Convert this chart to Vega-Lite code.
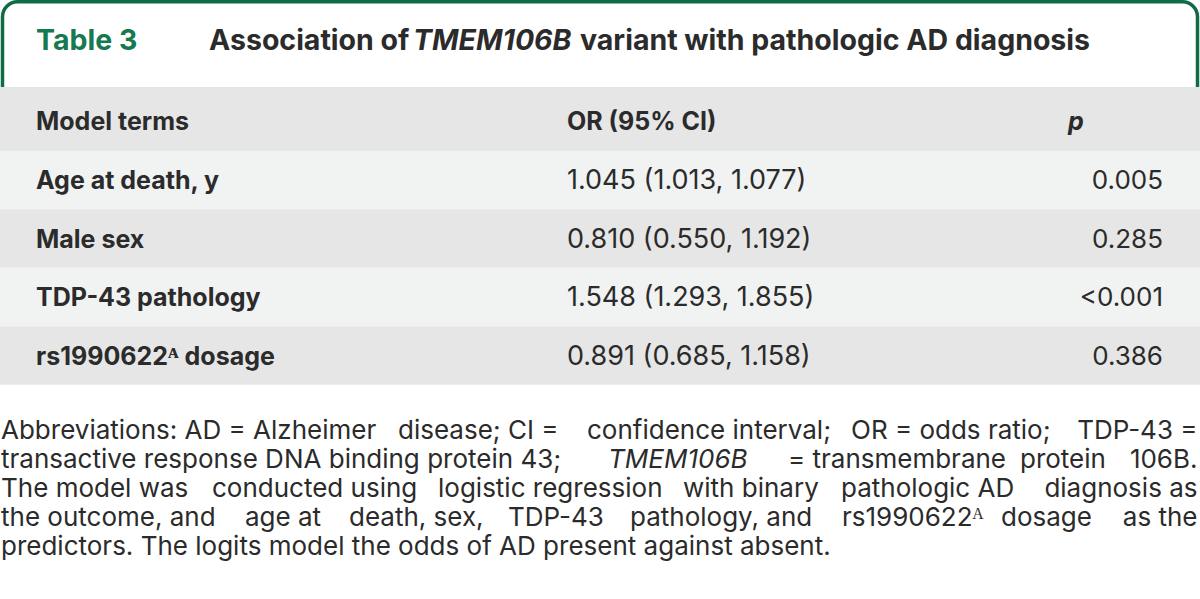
{
  "$schema": "https://vega.github.io/schema/vega-lite/v6.json",
  "width": 1200,
  "height": 599,
  "autosize": {"type": "none"},
  "padding": 0,
  "background": "white",
  "config": {"view": {"stroke": null}, "text": {"font": "Inter", "color": "#2b2b2b", "baseline": "middle"}},
  "datasets": {
    "bands": [
      {"row": 2, "shade": "header"},
      {"row": 3, "shade": "light"},
      {"row": 4, "shade": "dark"},
      {"row": 5, "shade": "light"},
      {"row": 6, "shade": "dark"}
    ],
    "cells": [
      {"row": 1, "col": 2, "role": "tableNo", "text": "Table 3"},
      {"row": 1, "col": 3, "role": "title", "text": "Association of"},
      {"row": 1, "col": 8, "role": "titleGene", "text": "TMEM106B"},
      {"row": 1, "col": 12, "role": "title", "text": "variant with pathologic AD diagnosis"},
      {"row": 2, "col": 2, "role": "colHead", "text": "Model terms"},
      {"row": 2, "col": 11, "role": "colHead", "text": "OR (95% CI)"},
      {"row": 2, "col": 23, "role": "colHeadP", "text": "p"},
      {"row": 3, "col": 2, "role": "term", "text": "Age at death, y"},
      {"row": 3, "col": 11, "role": "or", "text": "1.045 (1.013, 1.077)"},
      {"row": 3, "col": 24, "role": "p", "text": "0.005"},
      {"row": 4, "col": 2, "role": "term", "text": "Male sex"},
      {"row": 4, "col": 11, "role": "or", "text": "0.810 (0.550, 1.192)"},
      {"row": 4, "col": 24, "role": "p", "text": "0.285"},
      {"row": 5, "col": 2, "role": "term", "text": "TDP-43 pathology"},
      {"row": 5, "col": 11, "role": "or", "text": "1.548 (1.293, 1.855)"},
      {"row": 5, "col": 24, "role": "p", "text": "<0.001"},
      {"row": 6, "col": 2, "role": "term", "text": "rs1990622ᴬ dosage"},
      {"row": 6, "col": 11, "role": "or", "text": "0.891 (0.685, 1.158)"},
      {"row": 6, "col": 24, "role": "p", "text": "0.386"},
      {"row": 7, "col": 0, "role": "note", "text": "Abbreviations: AD = Alzheimer"},
      {"row": 7, "col": 7, "role": "note", "text": "disease; CI ="},
      {"row": 7, "col": 13, "role": "note", "text": "confidence interval;"},
      {"row": 7, "col": 20, "role": "note", "text": "OR = odds ratio;"},
      {"row": 7, "col": 25, "role": "noteEnd", "text": "TDP-43 ="},
      {"row": 8, "col": 0, "role": "note", "text": "transactive response DNA binding protein 43;"},
      {"row": 8, "col": 14, "role": "noteGene", "text": "TMEM106B"},
      {"row": 8, "col": 17, "role": "note", "text": "= transmembrane"},
      {"row": 8, "col": 22, "role": "note", "text": "protein"},
      {"row": 8, "col": 25, "role": "noteEnd", "text": "106B."},
      {"row": 9, "col": 0, "role": "note", "text": "The model was"},
      {"row": 9, "col": 4, "role": "note", "text": "conducted using"},
      {"row": 9, "col": 9, "role": "note", "text": "logistic regression"},
      {"row": 9, "col": 16, "role": "note", "text": "with binary"},
      {"row": 9, "col": 18, "role": "note", "text": "pathologic AD"},
      {"row": 9, "col": 25, "role": "noteEnd", "text": "diagnosis as"},
      {"row": 10, "col": 0, "role": "note", "text": "the outcome, and"},
      {"row": 10, "col": 5, "role": "note", "text": "age at"},
      {"row": 10, "col": 6, "role": "note", "text": "death, sex,"},
      {"row": 10, "col": 10, "role": "note", "text": "TDP-43"},
      {"row": 10, "col": 15, "role": "note", "text": "pathology, and"},
      {"row": 10, "col": 19, "role": "note", "text": "rs1990622ᴬ"},
      {"row": 10, "col": 21, "role": "note", "text": "dosage"},
      {"row": 10, "col": 25, "role": "noteEnd", "text": "as the"},
      {"row": 11, "col": 0, "role": "note", "text": "predictors. The logits model the odds of AD present against absent."}
    ]
  },
  "layer": [
    {
      "data": {"values": [{}]},
      "mark": {"type": "rect", "fill": "white", "stroke": "#0f6b45", "strokeWidth": 3.5, "cornerRadius": 15},
      "encoding": {
        "x": {"datum": 1, "type": "quantitative", "axis": null, "scale": {"domain": [0,1,2,3,4,5,6,7,8,9,10,11,12,13,14,15,16,17,18,19,20,21,22,23,24,25,26], "range": [1,2.5,36,209,212,245,349,398,413,438,508,567,580,587,608,630,683,788,841,842,851,1001,1020,1068,1163,1197.5,1200], "zero": false, "nice": false}},
        "x2": {"datum": 25},
        "y": {"datum": 0, "type": "quantitative", "axis": null, "scale": {"domain": [0,1,2,3,4,5,6,7,8,9,10,11,12], "range": [1.8,41,119,180,238.5,297,355.5,431,460,489,518,547,599], "zero": false, "nice": false}},
        "y2": {"datum": 2}
      }
    },
    {
      "data": {"name": "bands"},
      "transform": [{"filter": "datum.shade == 'header'"}],
      "mark": {"type": "rule", "strokeWidth": 64},
      "encoding": {
        "y": {"field": "row", "type": "quantitative", "axis": null},
        "color": {"field": "shade", "type": "nominal", "legend": null, "scale": {"domain": ["header", "light", "dark"], "range": ["#e6e6e6", "#f1f2f2", "#e6e6e6"]}}
      }
    },
    {
      "data": {"name": "bands"},
      "transform": [{"filter": "datum.shade != 'header'"}],
      "mark": {"type": "rule", "strokeWidth": 58.7},
      "encoding": {
        "y": {"field": "row", "type": "quantitative", "axis": null},
        "color": {"field": "shade", "type": "nominal", "legend": null}
      }
    },
    {
      "data": {"name": "cells"},
      "transform": [{"filter": "datum.role == 'tableNo'"}],
      "mark": {"type": "text", "align": "left", "fontSize": 28.5, "fontWeight": "bold", "color": "#157a4f"},
      "encoding": {"x": {"field": "col", "type": "quantitative", "axis": null}, "y": {"field": "row", "type": "quantitative", "axis": null}, "text": {"field": "text"}}
    },
    {
      "data": {"name": "cells"},
      "transform": [{"filter": "datum.role == 'title'"}],
      "mark": {"type": "text", "align": "left", "fontSize": 28.5, "fontWeight": "bold"},
      "encoding": {"x": {"field": "col", "type": "quantitative", "axis": null}, "y": {"field": "row", "type": "quantitative", "axis": null}, "text": {"field": "text"}}
    },
    {
      "data": {"name": "cells"},
      "transform": [{"filter": "datum.role == 'titleGene'"}],
      "mark": {"type": "text", "align": "left", "fontSize": 28.5, "fontWeight": "bold", "fontStyle": "italic"},
      "encoding": {"x": {"field": "col", "type": "quantitative", "axis": null}, "y": {"field": "row", "type": "quantitative", "axis": null}, "text": {"field": "text"}}
    },
    {
      "data": {"name": "cells"},
      "transform": [{"filter": "datum.role == 'colHead'"}],
      "mark": {"type": "text", "align": "left", "fontSize": 25, "fontWeight": "bold", "dy": 3},
      "encoding": {"x": {"field": "col", "type": "quantitative", "axis": null}, "y": {"field": "row", "type": "quantitative", "axis": null}, "text": {"field": "text"}}
    },
    {
      "data": {"name": "cells"},
      "transform": [{"filter": "datum.role == 'colHeadP'"}],
      "mark": {"type": "text", "align": "left", "fontSize": 25, "fontWeight": "bold", "fontStyle": "italic", "dy": 3},
      "encoding": {"x": {"field": "col", "type": "quantitative", "axis": null}, "y": {"field": "row", "type": "quantitative", "axis": null}, "text": {"field": "text"}}
    },
    {
      "data": {"name": "cells"},
      "transform": [{"filter": "datum.role == 'term'"}],
      "mark": {"type": "text", "align": "left", "fontSize": 25, "fontWeight": "bold", "dy": 1},
      "encoding": {"x": {"field": "col", "type": "quantitative", "axis": null}, "y": {"field": "row", "type": "quantitative", "axis": null}, "text": {"field": "text"}}
    },
    {
      "data": {"name": "cells"},
      "transform": [{"filter": "datum.role == 'or'"}],
      "mark": {"type": "text", "align": "left", "fontSize": 27, "dy": 1},
      "encoding": {"x": {"field": "col", "type": "quantitative", "axis": null}, "y": {"field": "row", "type": "quantitative", "axis": null}, "text": {"field": "text"}}
    },
    {
      "data": {"name": "cells"},
      "transform": [{"filter": "datum.role == 'p'"}],
      "mark": {"type": "text", "align": "right", "fontSize": 26, "dy": 1},
      "encoding": {"x": {"field": "col", "type": "quantitative", "axis": null}, "y": {"field": "row", "type": "quantitative", "axis": null}, "text": {"field": "text"}}
    },
    {
      "data": {"name": "cells"},
      "transform": [{"filter": "datum.role == 'note'"}],
      "mark": {"type": "text", "align": "left", "fontSize": 26},
      "encoding": {"x": {"field": "col", "type": "quantitative", "axis": null}, "y": {"field": "row", "type": "quantitative", "axis": null}, "text": {"field": "text"}}
    },
    {
      "data": {"name": "cells"},
      "transform": [{"filter": "datum.role == 'noteEnd'"}],
      "mark": {"type": "text", "align": "right", "fontSize": 26},
      "encoding": {"x": {"field": "col", "type": "quantitative", "axis": null}, "y": {"field": "row", "type": "quantitative", "axis": null}, "text": {"field": "text"}}
    },
    {
      "data": {"name": "cells"},
      "transform": [{"filter": "datum.role == 'noteGene'"}],
      "mark": {"type": "text", "align": "left", "fontSize": 26, "fontStyle": "italic"},
      "encoding": {"x": {"field": "col", "type": "quantitative", "axis": null}, "y": {"field": "row", "type": "quantitative", "axis": null}, "text": {"field": "text"}}
    }
  ]
}
